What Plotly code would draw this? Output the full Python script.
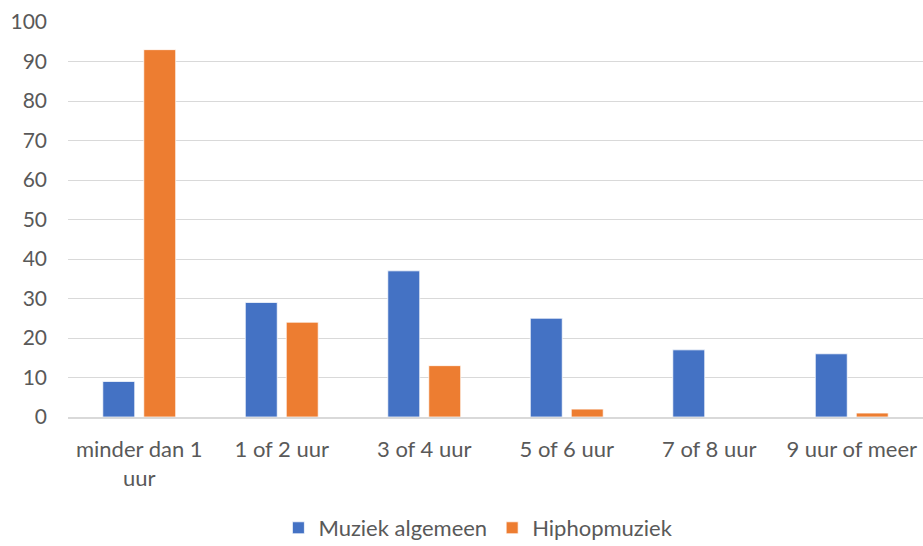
import plotly.graph_objects as go

categories = ["minder dan 1<br>uur", "1 of 2 uur", "3 of 4 uur", "5 of 6 uur", "7 of 8 uur", "9 uur of meer"]
muziek_algemeen = [9, 29, 37, 25, 17, 16]
hiphopmuziek = [93, 24, 13, 2, 0, 1]
y_ticks = list(range(0, 101, 10))

font_family = "Lato, 'Open Sans', sans-serif"
gray = "#595959"

fig = go.Figure()
fig.add_trace(go.Bar(name="Muziek algemeen", x=categories, y=muziek_algemeen,
                     marker=dict(color="#4472C4", line=dict(color="white", width=0.75))))
fig.add_trace(go.Bar(name="Hiphopmuziek", x=categories, y=hiphopmuziek,
                     marker=dict(color="#ED7D31", line=dict(color="white", width=0.75))))

fig.update_layout(
    width=923, height=546,
    margin=dict(l=68, r=0, t=22, b=129, autoexpand=False),
    barmode="group", bargap=0.425, bargroupgap=0.22,
    plot_bgcolor="white", paper_bgcolor="white",
    font=dict(family=font_family, size=21, color=gray),
    showlegend=True,
    legend=dict(orientation="h", x=0.48, xanchor="center", y=-0.281, yanchor="middle",
                font=dict(size=22, color=gray), itemwidth=30, tracegroupgap=0),
    xaxis=dict(showgrid=False, showline=True, linecolor="#D9D9D9", linewidth=1.5,
               ticks="", tickfont=dict(size=22, color=gray), ticklabelstandoff=12,
               automargin=False),
    yaxis=dict(range=[0, 100], tickvals=y_ticks, showgrid=True, gridcolor="#D9D9D9",
               gridwidth=1.3, zeroline=False, showline=False, ticks="",
               tickfont=dict(size=21, color=gray), ticklabelstandoff=20,
               automargin=False),
)

fig.write_html("out.html", config={"displayModeBar": False},
               post_script="document.body.style.margin='0';")
